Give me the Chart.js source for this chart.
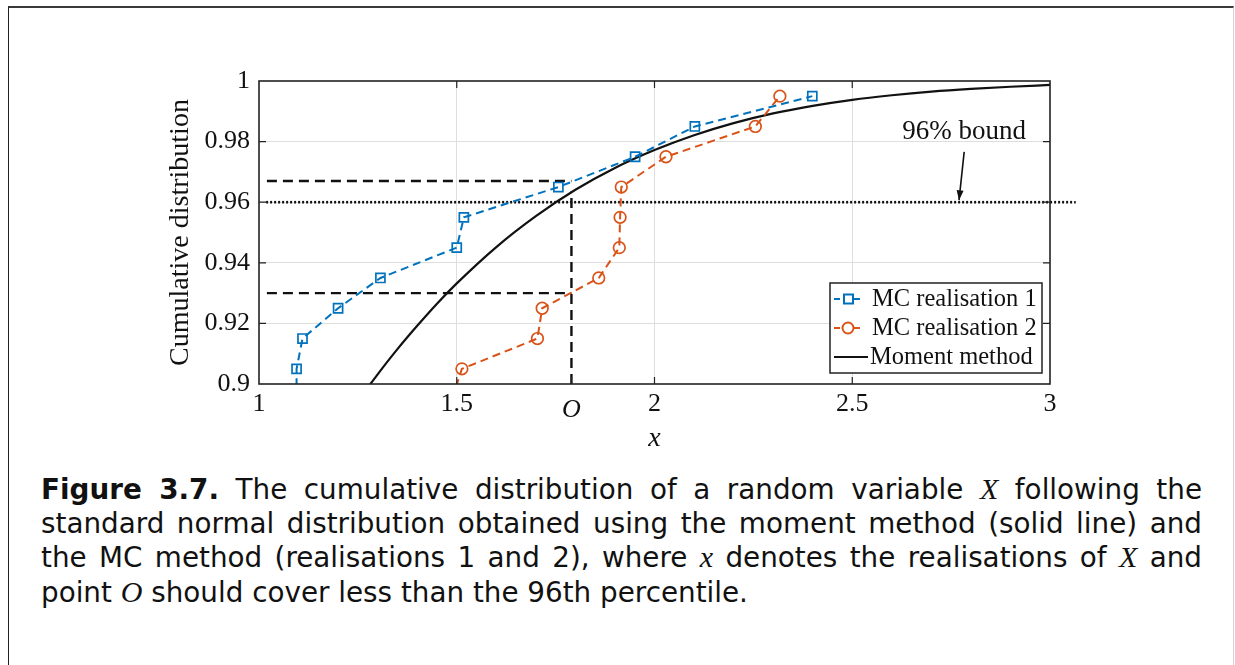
<!DOCTYPE html>
<html>
<head>
<meta charset="utf-8">
<title>Figure 3.7</title>
<script src="https://cdn.jsdelivr.net/npm/chart.js@4.4.0/dist/chart.umd.min.js"></script>
<style>
  html, body { margin: 0; padding: 0; background: #fff; }
  body { width: 1235px; height: 665px; position: relative; overflow: hidden; }
  #frame {
    position: absolute; left: 8px; top: 6px; width: 1224px; height: 700px;
    border-top: 2px solid #3a3a3a; border-left: 1.5px solid #222; border-right: 1px solid #d4d4d4;
  }
  #plot { position: absolute; left: 0; top: 0; width: 1235px; height: 465px; }
  #caption {
    position: absolute; left: 41px; top: 472px; width: 1161px;
    font-family: "DejaVu Sans"; font-size: 27.8px; line-height: 33.5px; color: #111;
  }
  #caption div { text-align: justify; text-align-last: justify; white-space: nowrap; }
  #caption div.last { text-align-last: left; }
  .m { font-family: "Liberation Serif"; font-style: italic; font-size: 30px; }
</style>
</head>
<body>
<div id="frame"></div>
<div id="plot"><canvas id="chart"></canvas></div>
<div id="caption">
  <div><b>Figure 3.7.</b> The cumulative distribution of a random variable <span class="m">X</span> following the</div>
  <div>standard normal distribution obtained using the moment method (solid line) and</div>
  <div>the MC method (realisations 1 and 2), where <span class="m">x</span> denotes the realisations of <span class="m">X</span> and</div>
  <div class="last">point <span class="m">O</span> should cover less than the 96th percentile.</div>
</div>
<script>
// values
const mc1X = [1.095, 1.095, 1.110, 1.200, 1.307, 1.500, 1.518, 1.757, 1.951, 2.102, 2.399];
const mc1Y = [0.895, 0.905, 0.915, 0.925, 0.935, 0.945, 0.955, 0.965, 0.975, 0.985, 0.995];
const mc2X = [1.488, 1.513, 1.704, 1.716, 1.859, 1.911, 1.913, 1.916, 2.029, 2.255, 2.317];
const mc2Y = [0.895, 0.905, 0.915, 0.925, 0.935, 0.945, 0.955, 0.965, 0.975, 0.985, 0.995];
const momentX = [1.25, 1.3, 1.35, 1.4, 1.45, 1.5, 1.6, 1.7, 1.8, 1.9, 2.0, 2.1, 2.2, 2.3, 2.4, 2.5, 2.6, 2.7, 2.8, 2.9, 3.0];
const momentY = [0.8944, 0.9032, 0.9115, 0.9192, 0.9265, 0.9332, 0.9452, 0.9554, 0.9641, 0.9713, 0.9772,
                 0.9821, 0.9861, 0.9893, 0.9918, 0.9938, 0.9953, 0.9965, 0.9974, 0.9981, 0.9987];

// reference lines
const boundX = [1.018, 3.065];
const boundY = [0.96, 0.96];
const upperX = [1.02, 1.79];
const upperY = [0.967, 0.967];
const lowerX = [1.02, 1.79];
const lowerY = [0.930, 0.930];
const pointOX = [1.79, 1.79];
const pointOY = [0.9, 0.9635];

// axes
const pointO = 1.79;
const xTicks = [1, 1.5, 1.79, 2, 2.5, 3];
const xTickLabels = ['1', '1.5', 'O', '2', '2.5', '3'];
const yTicks = [0.9, 0.92, 0.94, 0.96, 0.98, 1];
const yTickLabels = ['0.9', '0.92', '0.94', '0.96', '0.98', '1'];

const seriesNames = ['MC realisation 1', 'MC realisation 2', 'Moment method'];
const blue = '#0072BD';
const red = '#D95319';
const serif = '"Liberation Serif", "Times New Roman", serif';

function toXY(xs, ys) {
    return xs.map((x, i) => ({ x: x, y: ys[i] }));
}

// frame, inward tick marks, legend and the "96% bound" note
const decor = {
    id: 'decor',
    afterDatasetsDraw(chart) {
        const ctx = chart.ctx;
        const a = chart.chartArea;
        const xs = chart.scales.x, ys = chart.scales.y;
        ctx.save();
        ctx.strokeStyle = '#222';
        ctx.lineWidth = 1.2;
        ctx.beginPath();
        xTicks.slice(1, -1).forEach(v => {
            const p = xs.getPixelForValue(v);
            ctx.moveTo(p, a.bottom); ctx.lineTo(p, a.bottom - 7);
            if (v !== pointO) { ctx.moveTo(p, a.top); ctx.lineTo(p, a.top + 7); }
        });
        yTicks.slice(1, -1).forEach(v => {
            const p = ys.getPixelForValue(v);
            ctx.moveTo(a.left, p); ctx.lineTo(a.left + 7, p);
            ctx.moveTo(a.right, p); ctx.lineTo(a.right - 7, p);
        });
        ctx.stroke();
        ctx.lineWidth = 1.6;
        ctx.strokeRect(a.left, a.top, a.right - a.left, a.bottom - a.top);
        ctx.restore();
    },
    afterDraw(chart) {
        const ctx = chart.ctx;
        const a = chart.chartArea;
        const xs = chart.scales.x, ys = chart.scales.y;
        ctx.save();

        // note with arrow
        ctx.fillStyle = '#111';
        ctx.font = '27px ' + serif;
        ctx.textAlign = 'center';
        ctx.textBaseline = 'middle';
        ctx.fillText('96% bound', xs.getPixelForValue(2.783), ys.getPixelForValue(0.9832));
        const tx = xs.getPixelForValue(2.783), ty = ys.getPixelForValue(0.9766);
        const hx = xs.getPixelForValue(2.770), hy = ys.getPixelForValue(0.96) - 2;
        ctx.strokeStyle = '#111';
        ctx.lineWidth = 1.6;
        ctx.beginPath(); ctx.moveTo(tx, ty); ctx.lineTo(hx, hy); ctx.stroke();
        const ang = Math.atan2(hy - ty, hx - tx);
        ctx.beginPath();
        ctx.moveTo(hx, hy);
        ctx.lineTo(hx - 10 * Math.cos(ang) + 3.5 * Math.sin(ang), hy - 10 * Math.sin(ang) - 3.5 * Math.cos(ang));
        ctx.lineTo(hx - 10 * Math.cos(ang) - 3.5 * Math.sin(ang), hy - 10 * Math.sin(ang) + 3.5 * Math.cos(ang));
        ctx.closePath(); ctx.fill();

        // legend box in the lower right corner
        const w = 212, h = 90;
        const bx = a.right - 8 - w, by = a.bottom - 11 - h;
        ctx.fillStyle = '#fff';
        ctx.fillRect(bx, by, w, h);
        ctx.strokeStyle = '#222';
        ctx.lineWidth = 1.5;
        ctx.strokeRect(bx, by, w, h);
        ctx.font = '24.5px ' + serif;
        ctx.textAlign = 'left';
        ctx.textBaseline = 'middle';
        seriesNames.forEach((name, i) => {
            const ry = by + 16 + i * 29;
            ctx.save();
            if (i < 2) {
                const col = i === 0 ? blue : red;
                ctx.strokeStyle = col;
                ctx.lineWidth = 2;
                ctx.setLineDash([6, 4]);
                ctx.beginPath(); ctx.moveTo(bx + 4, ry); ctx.lineTo(bx + 31, ry); ctx.stroke();
                ctx.setLineDash([]);
                ctx.fillStyle = '#fff';
                if (i === 0) {
                    ctx.fillRect(bx + 14, ry - 4.5, 9, 9);
                    ctx.strokeRect(bx + 14, ry - 4.5, 9, 9);
                } else {
                    ctx.beginPath(); ctx.arc(bx + 18, ry, 5.5, 0, Math.PI * 2);
                    ctx.fill(); ctx.stroke();
                }
            } else {
                ctx.strokeStyle = '#111';
                ctx.lineWidth = 2;
                ctx.beginPath(); ctx.moveTo(bx + 4, ry); ctx.lineTo(bx + 38, ry); ctx.stroke();
            }
            ctx.restore();
            ctx.fillStyle = '#111';
            ctx.fillText(name, bx + (i < 2 ? 42 : 40), ry + 1);
        });
        ctx.restore();
    }
};

const ctx = document.getElementById('chart').getContext('2d');
const myChart = new Chart(ctx, {
    type: 'line',
    data: {
        datasets: [
            {
                label: seriesNames[0],
                data: toXY(mc1X, mc1Y),
                borderColor: blue,
                borderWidth: 2,
                borderDash: [8, 5],
                pointStyle: 'rect',
                pointRadius: 6.4,
                pointBorderWidth: 1.7,
                pointBorderColor: blue,
                pointBackgroundColor: 'rgba(0,0,0,0)',
                clip: 0
            },
            {
                label: seriesNames[1],
                data: toXY(mc2X, mc2Y),
                borderColor: red,
                borderWidth: 2,
                borderDash: [8, 5],
                pointStyle: 'circle',
                pointRadius: 5.8,
                pointBorderWidth: 1.7,
                pointBorderColor: red,
                pointBackgroundColor: 'rgba(0,0,0,0)',
                clip: 0
            },
            {
                label: seriesNames[2],
                data: toXY(momentX, momentY),
                borderColor: '#111',
                borderWidth: 2.2,
                pointRadius: 0,
                cubicInterpolationMode: 'monotone',
                clip: 0
            },
            {
                label: '96% bound',
                data: toXY(boundX, boundY),
                borderColor: '#111',
                borderWidth: 2.6,
                borderDash: [2, 2],
                pointRadius: 0,
                clip: false
            },
            {
                label: 'upper',
                data: toXY(upperX, upperY),
                borderColor: '#111',
                borderWidth: 2.4,
                borderDash: [10, 6],
                pointRadius: 0,
                clip: 0
            },
            {
                label: 'lower',
                data: toXY(lowerX, lowerY),
                borderColor: '#111',
                borderWidth: 2.4,
                borderDash: [10, 6],
                pointRadius: 0,
                clip: 0
            },
            {
                label: 'O',
                data: toXY(pointOX, pointOY),
                borderColor: '#111',
                borderWidth: 2.4,
                borderDash: [10, 6],
                pointRadius: 0,
                clip: 0
            }
        ]
    },
    options: {
        responsive: true,
        maintainAspectRatio: false,
        animation: false,
        layout: { padding: { left: 0, right: 185, top: 81, bottom: 0 } },
        plugins: {
            legend: { display: false },
            tooltip: { enabled: false }
        },
        scales: {
            x: {
                type: 'linear',
                min: 1,
                max: 3,
                afterBuildTicks: s => { s.ticks = xTicks.map(v => ({ value: v })); },
                afterFit: s => { s.height = 81; },
                border: { display: false },
                grid: {
                    drawTicks: false,
                    lineWidth: 1,
                    color: c => (c.tick && [1.5, 2, 2.5].includes(c.tick.value)) ? '#dedede' : 'rgba(0,0,0,0)'
                },
                ticks: {
                    color: '#111',
                    padding: 5,
                    maxRotation: 0,
                    autoSkip: false,
                    font: c => (c.tick && c.tick.value === pointO)
                        ? { family: serif, size: 26, style: 'italic', lineHeight: 1.6 }
                        : { family: serif, size: 26, lineHeight: 1.2 },
                    callback: (v, i) => xTickLabels[i]
                },
                title: {
                    display: true,
                    text: 'x',
                    color: '#111',
                    font: { family: serif, size: 28, style: 'italic', lineHeight: 1.2 },
                    padding: { top: 0, bottom: 10 }
                }
            },
            y: {
                min: 0.9,
                max: 1,
                afterBuildTicks: s => { s.ticks = yTicks.map(v => ({ value: v })); },
                afterFit: s => { s.width = 259; },
                border: { display: false },
                grid: {
                    drawTicks: false,
                    lineWidth: 1,
                    color: c => (c.tick && c.tick.value > 0.905 && c.tick.value < 0.995) ? '#dedede' : 'rgba(0,0,0,0)'
                },
                ticks: {
                    color: '#111',
                    padding: 9,
                    font: { family: serif, size: 26 },
                    callback: (v, i) => yTickLabels[i]
                },
                title: {
                    display: true,
                    text: 'Cumulative distribution',
                    color: '#111',
                    font: { family: serif, size: 28, lineHeight: 1.2 },
                    padding: { top: 164, bottom: 0 }
                }
            }
        }
    },
    plugins: [decor]
});
</script>
</body>
</html>
